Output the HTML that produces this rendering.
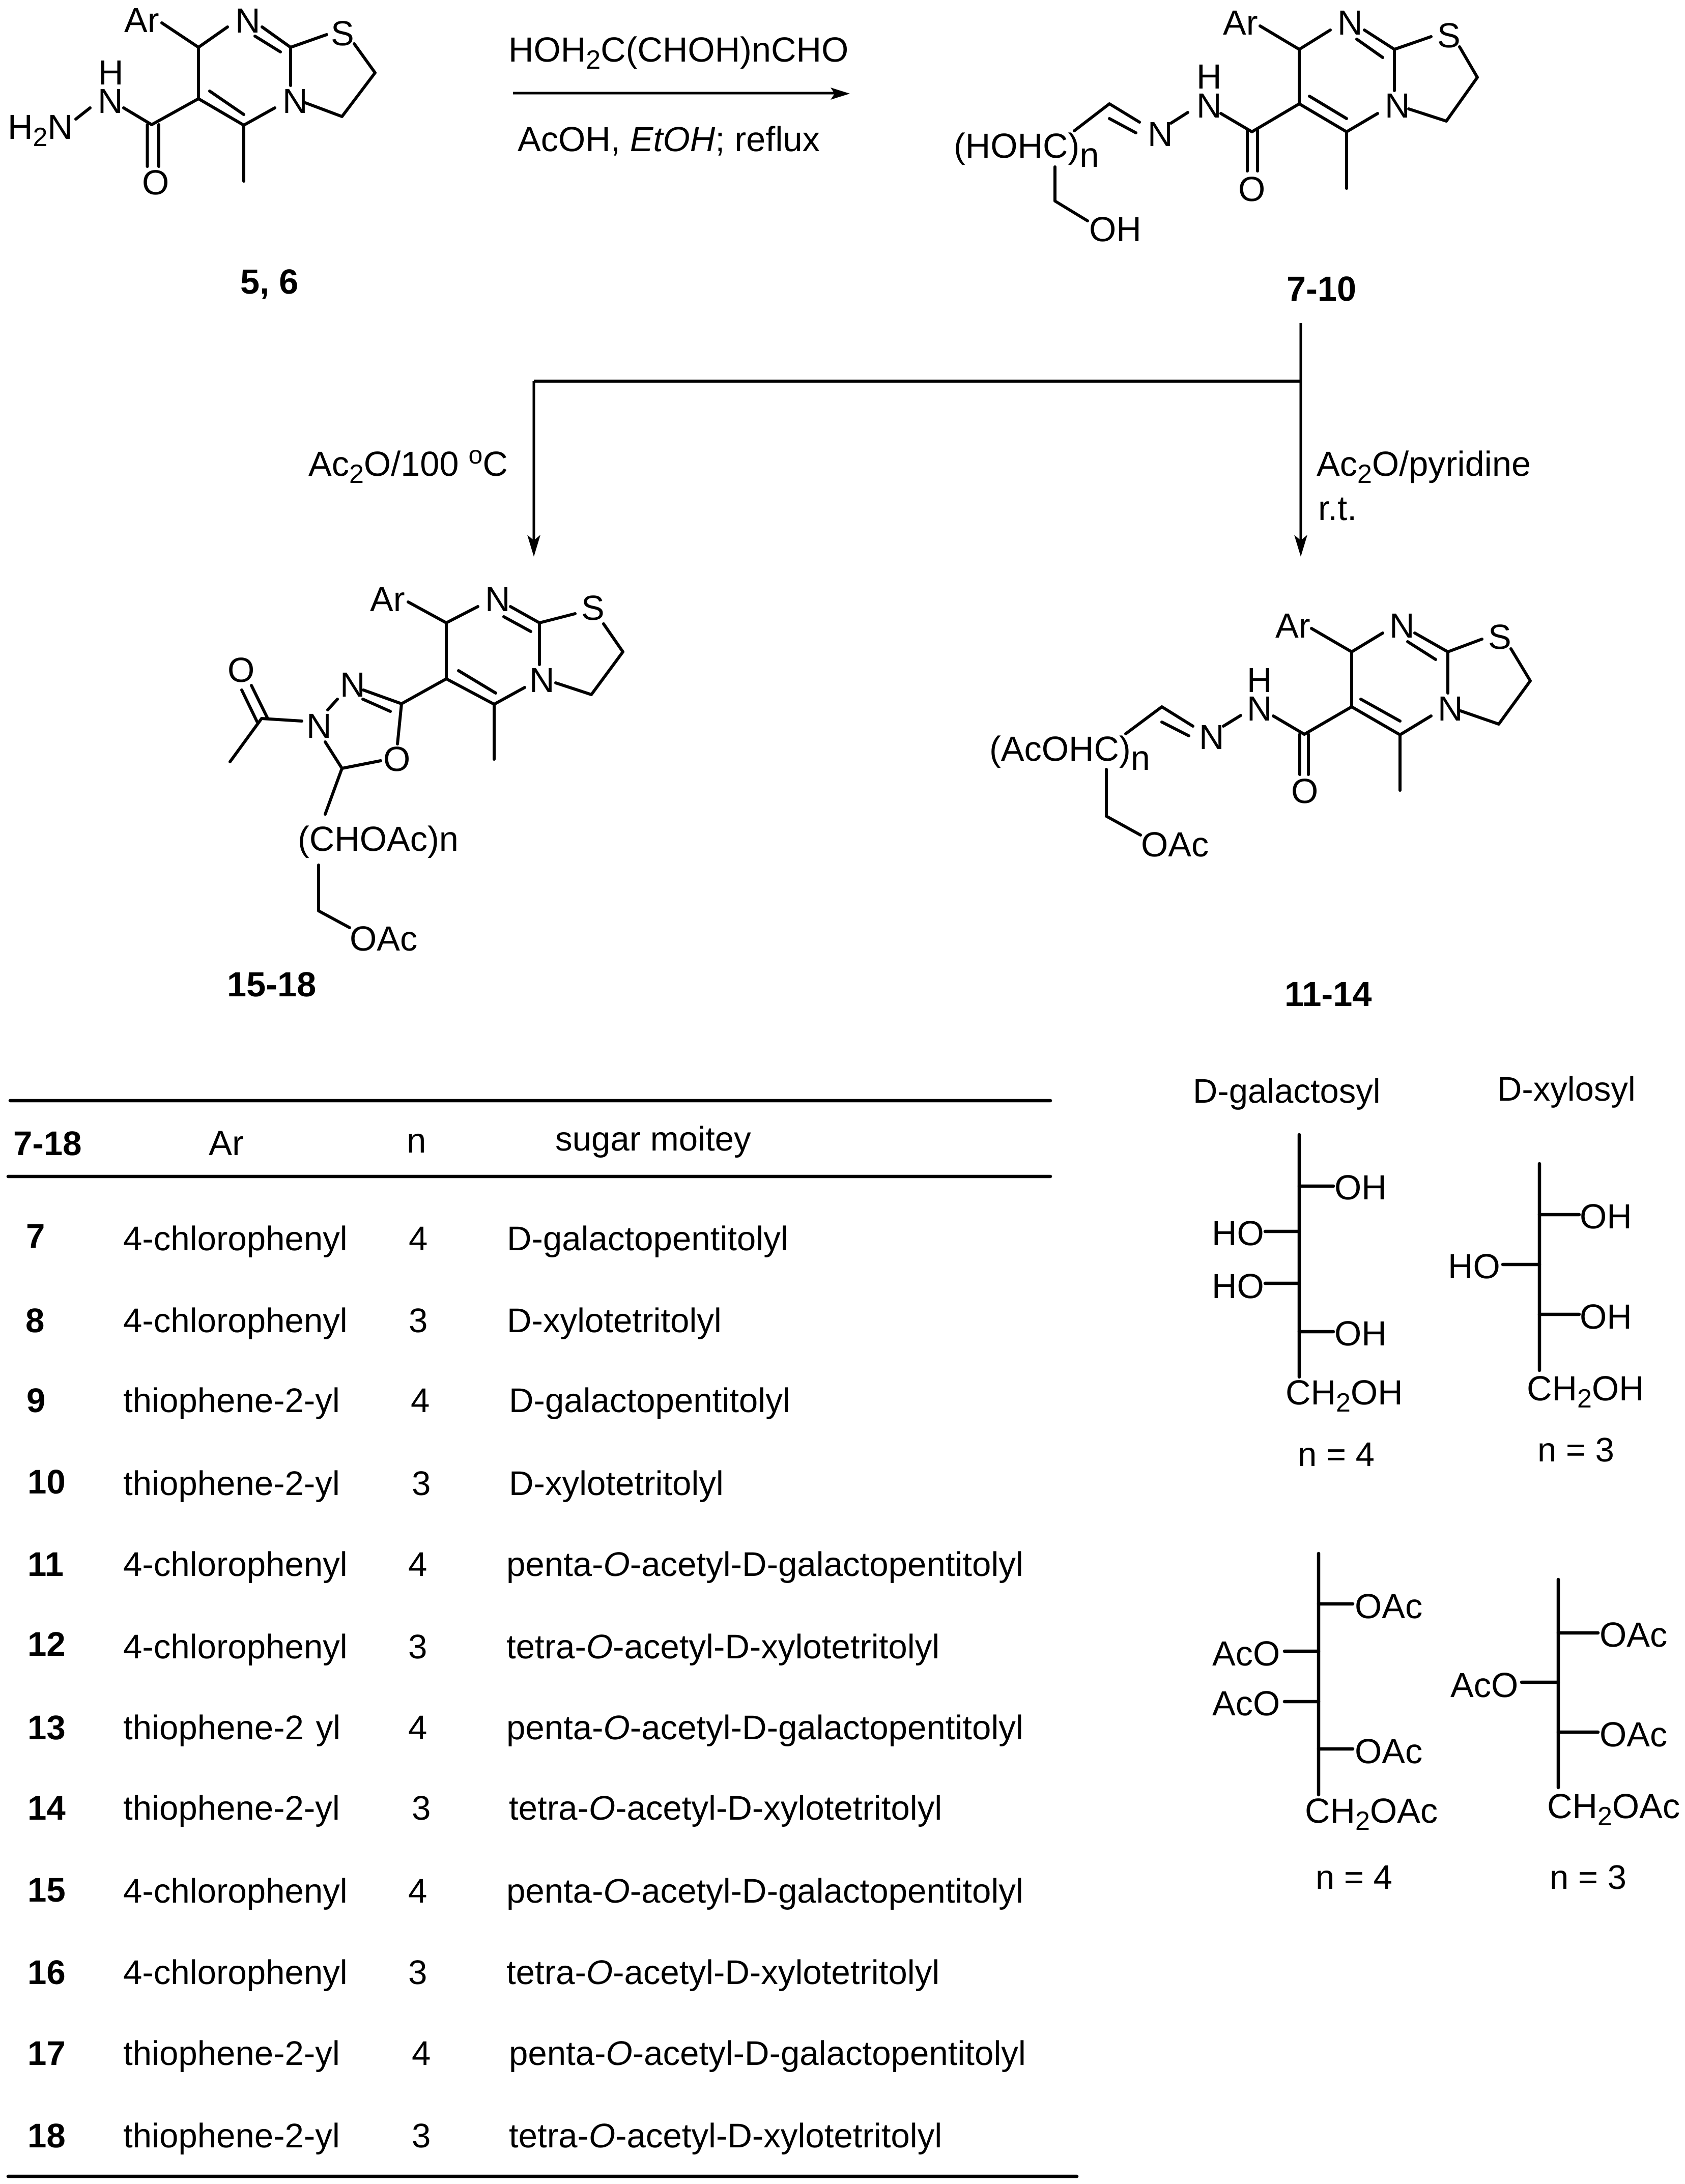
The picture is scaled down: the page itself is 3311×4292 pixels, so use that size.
<!DOCTYPE html>
<html>
<head>
<meta charset="utf-8">
<style>
html,body{margin:0;padding:0;background:#fff}
svg{display:block}
text{font-family:"Liberation Sans",Arial,sans-serif;font-size:68.500px;fill:#000;text-rendering:geometricPrecision}
.b{font-weight:bold}
.t{font-size:67.200px}
.h{font-size:69px}
.g{font-size:67px}
line,polyline{stroke:#000;stroke-width:6;fill:none;stroke-linecap:round;stroke-linejoin:round}
.w{stroke-width:6.500}
.n{stroke-width:5}
</style>
</head>
<body>
<svg xmlns="http://www.w3.org/2000/svg" width="3311" height="4292" viewBox="0 0 3311 4292">
<rect width="3311" height="4292" fill="#fff"/>

<!-- compound 5,6 -->
<polyline points="318,45 390,93 447,53"/>
<polyline points="515,53 571,93 642,68"/>
<line x1="501" y1="71" x2="551" y2="102"/>
<polyline points="696,86 737,143 672,229 600,202"/>
<line x1="571" y1="93" x2="571" y2="168"/>
<polyline points="390,93 390,194 479,246 540,212"/>
<line x1="412" y1="179" x2="479" y2="225"/>
<line x1="479" y1="246" x2="479" y2="356"/>
<polyline points="390,194 298,245 243,212"/>
<line x1="289.500" y1="245" x2="289.500" y2="327"/>
<line x1="312" y1="245" x2="312" y2="327"/>
<line x1="177" y1="212" x2="149" y2="234"/>
<text x="244" y="63">Ar</text>
<text x="462" y="64">N</text>
<text x="650" y="89">S</text>
<text x="193" y="166">H</text>
<text x="192" y="222">N</text>
<text x="15" y="273">H<tspan font-size="52" dy="14">2</tspan><tspan dy="-14">N</tspan></text>
<text x="555" y="222">N</text>
<text x="279" y="382">O</text>
<text class="b" x="472" y="577">5, 6</text>

<!-- reaction arrow -->
<line x1="1008" y1="183" x2="1640" y2="183" style="stroke-width:5;stroke-linecap:butt"/>
<polygon points="1670,184 1632,172 1640,184 1632,196" fill="#000"/>
<text x="999" y="121">HOH<tspan font-size="52" dy="14">2</tspan><tspan dy="-14">C(CHOH)nCHO</tspan></text>
<text x="1017" y="297">AcOH, <tspan font-style="italic">EtOH</tspan>; reflux</text>

<!-- compound 7-10 -->
<polyline points="2476,51 2553,97 2614,59"/>
<polyline points="2681,59 2740,97 2812,72"/>
<line x1="2666" y1="77" x2="2717" y2="113"/>
<polyline points="2868,92 2903,152 2842,238 2768,214"/>
<line x1="2740" y1="97" x2="2740" y2="178"/>
<polyline points="2553,97 2553,204 2646,259 2707,223"/>
<line x1="2573" y1="189" x2="2646" y2="233"/>
<line x1="2646" y1="259" x2="2646" y2="370"/>
<polyline points="2553,204 2460,259 2399,223"/>
<line x1="2451" y1="255" x2="2451" y2="336"/>
<line x1="2471" y1="255" x2="2471" y2="336"/>
<line x1="2334" y1="221" x2="2301" y2="242"/>
<polyline points="2111,257 2180,204 2239,240"/>
<line x1="2180" y1="233" x2="2232" y2="261"/>
<polyline points="2073,328 2073,395 2137,434"/>
<text x="2351" y="174">H</text>
<text x="2351" y="231">N</text>
<text x="2255" y="287">N</text>
<text x="1874" y="310">(HOHC)<tspan dy="18">n</tspan></text>
<text x="2403" y="68">Ar</text>
<text x="2628" y="68">N</text>
<text x="2824" y="93">S</text>
<text x="2721" y="231">N</text>
<text x="2433" y="395">O</text>
<text x="2140" y="474">OH</text>
<text class="b" x="2528" y="591">7-10</text>

<!-- branching connector -->
<line class="n" x1="2556" y1="635" x2="2556" y2="1065" style="stroke-linecap:butt"/>
<line class="n" x1="1049" y1="749" x2="1049" y2="1065" style="stroke-linecap:butt"/>
<line x1="1049" y1="749" x2="2556" y2="749" style="stroke-width:6;stroke-linecap:butt"/>
<polygon points="1049,1094 1036,1051 1049,1062 1062,1051" fill="#000"/>
<polygon points="2556,1094 2543,1051 2556,1062 2569,1051" fill="#000"/>
<text x="606" y="935">Ac<tspan font-size="52" dy="14">2</tspan><tspan dy="-14">O/100 </tspan><tspan font-size="50" dy="-24">o</tspan><tspan dy="24">C</tspan></text>
<text x="2587" y="935">Ac<tspan font-size="52" dy="14">2</tspan><tspan dy="-14">O/pyridine</tspan></text>
<text x="2590" y="1022">r.t.</text>

<!-- compound 15-18 -->
<polyline points="802,1183 877,1224 939,1192"/>
<polyline points="1003,1192 1060,1224 1130,1206"/>
<line x1="990" y1="1212" x2="1043" y2="1241"/>
<polyline points="1186,1226 1224,1281 1162,1365 1092,1342"/>
<line x1="1060" y1="1224" x2="1060" y2="1306"/>
<polyline points="877,1224 877,1334 971,1384 1031,1351"/>
<line x1="901" y1="1318" x2="974" y2="1362"/>
<line x1="971" y1="1384" x2="971" y2="1492"/>
<polyline points="877,1334 789,1383 714,1356"/>
<line x1="767" y1="1398" x2="713" y2="1374"/>
<line x1="789" y1="1383" x2="781" y2="1462"/>
<polyline points="748,1495 672,1510 639,1458"/>
<line x1="672" y1="1510" x2="639" y2="1600"/>
<line x1="663" y1="1374" x2="644" y2="1395"/>
<polyline points="593,1417 514,1412 452,1497"/>
<line x1="526" y1="1412" x2="494" y2="1347"/>
<line x1="505" y1="1418" x2="475" y2="1356"/>
<polyline points="626,1700 626,1790 687,1823"/>
<text x="727" y="1201">Ar</text>
<text x="953" y="1201">N</text>
<text x="1142" y="1218">S</text>
<text x="1040" y="1360">N</text>
<text x="668" y="1369">N</text>
<text x="602" y="1450">N</text>
<text x="447" y="1340">O</text>
<text x="753" y="1515">O</text>
<text x="585" y="1672">(CHOAc)n</text>
<text x="687" y="1868">OAc</text>
<text class="b" x="446" y="1958">15-18</text>

<!-- compound 11-14 -->
<polyline points="2577,1235 2656,1281 2717,1244"/>
<polyline points="2780,1244 2845,1281 2912,1256"/>
<line x1="2766" y1="1261" x2="2821" y2="1296"/>
<polyline points="2969,1275 3007,1338 2945,1423 2870,1397"/>
<line x1="2845" y1="1281" x2="2845" y2="1362"/>
<polyline points="2656,1281 2656,1389 2751,1444 2812,1407"/>
<line x1="2674" y1="1374" x2="2751" y2="1417"/>
<line x1="2751" y1="1444" x2="2751" y2="1553"/>
<polyline points="2656,1389 2563,1443 2502,1407"/>
<line x1="2554" y1="1443" x2="2554" y2="1522"/>
<line x1="2571" y1="1443" x2="2571" y2="1522"/>
<line x1="2438" y1="1406" x2="2404" y2="1427"/>
<polyline points="2212,1442 2283,1389 2344,1427"/>
<line x1="2283" y1="1419" x2="2336" y2="1446"/>
<polyline points="2174,1512 2174,1604 2241,1641"/>
<text x="2450" y="1360">H</text>
<text x="2450" y="1416">N</text>
<text x="2356" y="1472">N</text>
<text x="1944" y="1495">(AcOHC)<tspan dy="18">n</tspan></text>
<text x="2506" y="1253">Ar</text>
<text x="2730" y="1253">N</text>
<text x="2924" y="1275">S</text>
<text x="2825" y="1416">N</text>
<text x="2537" y="1578">O</text>
<text x="2242" y="1683">OAc</text>
<text class="b" x="2524" y="1977">11-14</text>

<!-- sugar: D-galactosyl -->
<text class="g" x="2344" y="2167">D-galactosyl</text>
<line class="w" x1="2553" y1="2230" x2="2553" y2="2706"/>
<line class="w" x1="2553" y1="2331" x2="2620" y2="2331"/>
<line class="w" x1="2486" y1="2420" x2="2553" y2="2420"/>
<line class="w" x1="2486" y1="2522" x2="2553" y2="2522"/>
<line class="w" x1="2553" y1="2617" x2="2620" y2="2617"/>
<text x="2622" y="2357">OH</text>
<text x="2381" y="2447">HO</text>
<text x="2381" y="2551">HO</text>
<text x="2622" y="2644">OH</text>
<text x="2526" y="2760">CH<tspan font-size="52" dy="14">2</tspan><tspan dy="-14">OH</tspan></text>
<text class="g" x="2550" y="2881">n = 4</text>

<!-- sugar: D-xylosyl -->
<text class="g" x="2942" y="2163">D-xylosyl</text>
<line class="w" x1="3025" y1="2287" x2="3025" y2="2693"/>
<line class="w" x1="3025" y1="2387" x2="3103" y2="2387"/>
<line class="w" x1="2953" y1="2485" x2="3025" y2="2485"/>
<line class="w" x1="3025" y1="2583" x2="3103" y2="2583"/>
<text x="3104" y="2414">OH</text>
<text x="2845" y="2512">HO</text>
<text x="3104" y="2611">OH</text>
<text x="3000" y="2752">CH<tspan font-size="52" dy="14">2</tspan><tspan dy="-14">OH</tspan></text>
<text class="g" x="3021" y="2872">n = 3</text>

<!-- sugar: acetylated n=4 -->
<line class="w" x1="2591" y1="3053" x2="2591" y2="3527"/>
<line class="w" x1="2591" y1="3152" x2="2658" y2="3152"/>
<line class="w" x1="2524" y1="3245" x2="2591" y2="3245"/>
<line class="w" x1="2524" y1="3344" x2="2591" y2="3344"/>
<line class="w" x1="2591" y1="3437" x2="2658" y2="3437"/>
<text x="2662" y="3180">OAc</text>
<text x="2382" y="3273">AcO</text>
<text x="2382" y="3371">AcO</text>
<text x="2662" y="3465">OAc</text>
<text x="2564" y="3582">CH<tspan font-size="52" dy="14">2</tspan><tspan dy="-14">OAc</tspan></text>
<text class="g" x="2585" y="3712">n = 4</text>

<!-- sugar: acetylated n=3 -->
<line class="w" x1="3062" y1="3104" x2="3062" y2="3513"/>
<line class="w" x1="3062" y1="3209" x2="3140" y2="3209"/>
<line class="w" x1="2990" y1="3306" x2="3062" y2="3306"/>
<line class="w" x1="3062" y1="3404" x2="3140" y2="3404"/>
<text x="3143" y="3236">OAc</text>
<text x="2850" y="3335">AcO</text>
<text x="3143" y="3432">OAc</text>
<text x="3040" y="3573">CH<tspan font-size="52" dy="14">2</tspan><tspan dy="-14">OAc</tspan></text>
<text class="g" x="3045" y="3712">n = 3</text>

<!-- table rules -->
<line class="w" x1="20" y1="2163" x2="2064" y2="2163"/>
<line class="w" x1="16" y1="2312" x2="2064" y2="2312"/>
<line class="w" x1="16" y1="4277" x2="2116" y2="4277"/>

<!-- table header -->
<text class="t b" x="26" y="2270">7-18</text>
<text class="h" x="410" y="2270">Ar</text>
<text class="h" x="799" y="2265">n</text>
<text class="t" x="1091" y="2261">sugar moitey</text>

<!-- table rows -->
<text class="t b" x="51" y="2452">7</text>
<text class="t" x="242" y="2457">4-chlorophenyl</text>
<text class="t" x="803" y="2457">4</text>
<text class="t" x="996" y="2457">D-galactopentitolyl</text>

<text class="t b" x="50" y="2618">8</text>
<text class="t" x="242" y="2618">4-chlorophenyl</text>
<text class="t" x="803" y="2618">3</text>
<text class="t" x="996" y="2618">D-xylotetritolyl</text>

<text class="t b" x="52" y="2775">9</text>
<text class="t" x="242" y="2775">thiophene-2-yl</text>
<text class="t" x="807" y="2775">4</text>
<text class="t" x="1000" y="2775">D-galactopentitolyl</text>

<text class="t b" x="54" y="2935">10</text>
<text class="t" x="242" y="2938">thiophene-2-yl</text>
<text class="t" x="809" y="2938">3</text>
<text class="t" x="1000" y="2938">D-xylotetritolyl</text>

<text class="t b" x="54" y="3097">11</text>
<text class="t" x="242" y="3097">4-chlorophenyl</text>
<text class="t" x="802" y="3097">4</text>
<text class="t" x="995" y="3097">penta-<tspan font-style="italic">O</tspan>-acetyl-D-galactopentitolyl</text>

<text class="t b" x="54" y="3254">12</text>
<text class="t" x="242" y="3259">4-chlorophenyl</text>
<text class="t" x="802" y="3259">3</text>
<text class="t" x="995" y="3259">tetra-<tspan font-style="italic">O</tspan>-acetyl-D-xylotetritolyl</text>

<text class="t b" x="54" y="3418">13</text>
<text class="t" x="242" y="3418" word-spacing="5">thiophene-2 yl</text>
<text class="t" x="802" y="3418">4</text>
<text class="t" x="995" y="3418">penta-<tspan font-style="italic">O</tspan>-acetyl-D-galactopentitolyl</text>

<text class="t b" x="54" y="3576">14</text>
<text class="t" x="242" y="3576">thiophene-2-yl</text>
<text class="t" x="809" y="3576">3</text>
<text class="t" x="1000" y="3576">tetra-<tspan font-style="italic">O</tspan>-acetyl-D-xylotetritolyl</text>

<text class="t b" x="54" y="3737">15</text>
<text class="t" x="242" y="3739">4-chlorophenyl</text>
<text class="t" x="802" y="3739">4</text>
<text class="t" x="995" y="3739">penta-<tspan font-style="italic">O</tspan>-acetyl-D-galactopentitolyl</text>

<text class="t b" x="54" y="3899">16</text>
<text class="t" x="242" y="3899">4-chlorophenyl</text>
<text class="t" x="802" y="3899">3</text>
<text class="t" x="995" y="3899">tetra-<tspan font-style="italic">O</tspan>-acetyl-D-xylotetritolyl</text>

<text class="t b" x="54" y="4058">17</text>
<text class="t" x="242" y="4058">thiophene-2-yl</text>
<text class="t" x="809" y="4058">4</text>
<text class="t" x="1000" y="4058">penta-<tspan font-style="italic">O</tspan>-acetyl-D-galactopentitolyl</text>

<text class="t b" x="54" y="4220">18</text>
<text class="t" x="242" y="4220">thiophene-2-yl</text>
<text class="t" x="809" y="4220">3</text>
<text class="t" x="1000" y="4220">tetra-<tspan font-style="italic">O</tspan>-acetyl-D-xylotetritolyl</text>
</svg>
</body>
</html>
